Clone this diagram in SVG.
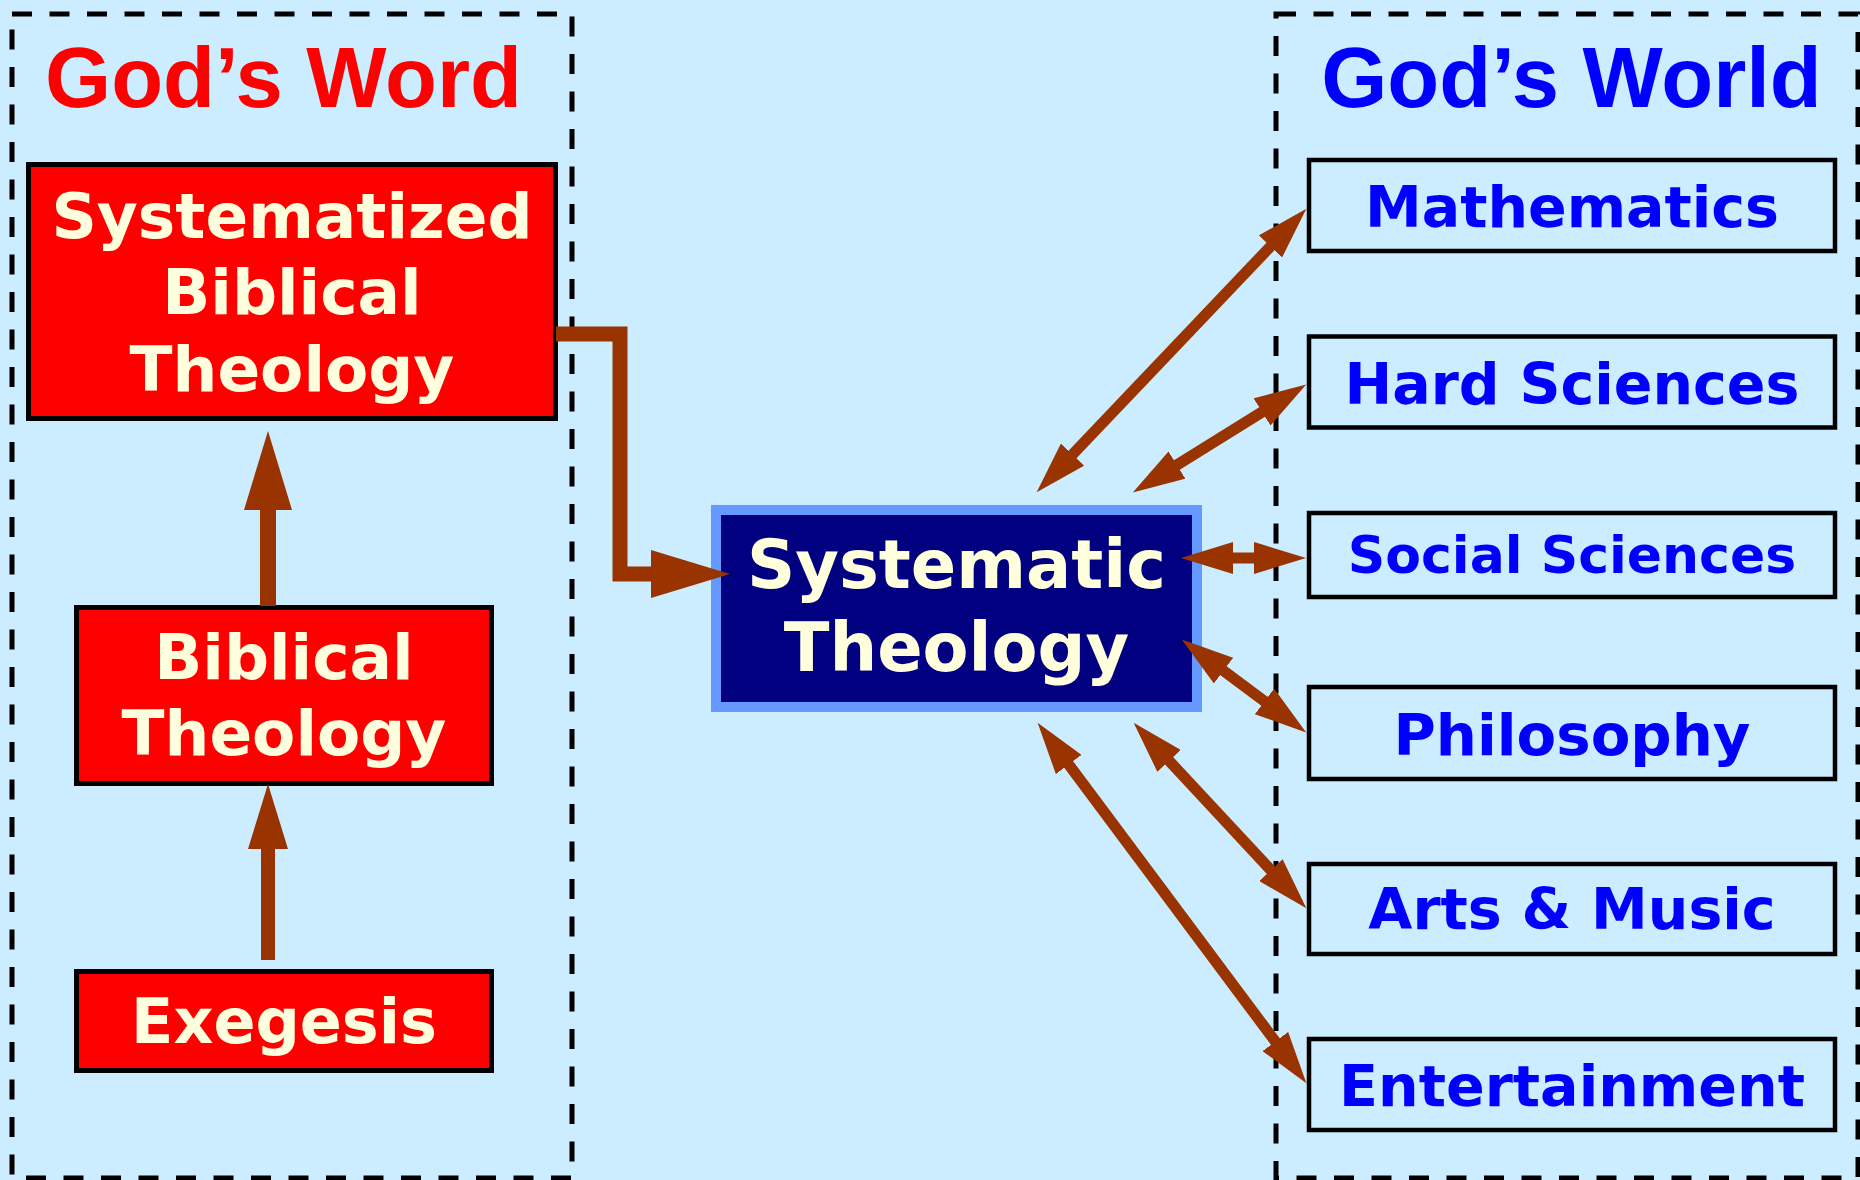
<svg xmlns="http://www.w3.org/2000/svg" width="1860" height="1180" viewBox="0 0 1860 1180">
<style>
.frame{fill:none;stroke:#000;stroke-width:5;stroke-dasharray:20 17.5}
.title{font-family:"Liberation Sans",Arial,sans-serif;font-weight:bold;font-size:85px;text-anchor:middle}
.red{fill:#FF0000;stroke:#000;stroke-width:5}
.rt{font-family:"DejaVu Sans",Verdana,sans-serif;font-weight:bold;fill:#FFFFDD;text-anchor:middle}
.wbox{fill:none;stroke:#000;stroke-width:4.5}
.wt{font-family:"DejaVu Sans",Verdana,sans-serif;font-weight:bold;fill:#0000FF;text-anchor:middle}
.conn{stroke:#993300;fill:none}
.dbl{stroke:#993300;stroke-width:11;marker-start:url(#dh);marker-end:url(#dh)}
</style>
<defs>
<marker id="dh" markerUnits="userSpaceOnUse" markerWidth="52" markerHeight="32" refX="1" refY="16" orient="auto-start-reverse"><path d="M0,0 L52,16 L0,32 z" fill="#993300"/></marker>
<marker id="big" markerUnits="userSpaceOnUse" markerWidth="79" markerHeight="48" refX="1" refY="24" orient="auto"><path d="M0,0 L79,24 L0,48 z" fill="#993300"/></marker>
<marker id="mid" markerUnits="userSpaceOnUse" markerWidth="65" markerHeight="40" refX="1" refY="20" orient="auto"><path d="M0,0 L65,20 L0,40 z" fill="#993300"/></marker>
</defs>
<rect width="1860" height="1180" fill="#CCECFF"/>
<g id="gods-word">
<rect class="frame" x="12" y="14" width="560" height="1164"/>
<text class="title" x="283.5" y="107" fill="#FF0000">God’s Word</text>
</g>
<g id="gods-world">
<rect class="frame" x="1276" y="14" width="582" height="1164"/>
<text class="title" x="1571.5" y="107" fill="#0000FF">God’s World</text>
</g>
<g id="systematized-biblical-theology">
<rect class="red" x="28.5" y="164.5" width="527" height="254"/>
<text class="rt" font-size="63" x="292" y="238">Systematized</text>
<text class="rt" font-size="63" x="292" y="314">Biblical</text>
<text class="rt" font-size="63" x="292" y="391">Theology</text>
</g>
<g id="biblical-theology">
<rect class="red" x="76.5" y="607.5" width="415" height="176"/>
<text class="rt" font-size="63" x="284" y="679">Biblical</text>
<text class="rt" font-size="63" x="284" y="755">Theology</text>
</g>
<g id="exegesis">
<rect class="red" x="76.5" y="971.5" width="415" height="99"/>
<text class="rt" font-size="62" x="284" y="1043">Exegesis</text>
</g>
<g id="systematic-theology">
<rect x="716" y="510" width="481" height="197" fill="#000080" stroke="#6699FF" stroke-width="10"/>
<text class="rt" font-size="67" x="956.5" y="588">Systematic</text>
<text class="rt" font-size="67" x="956.5" y="671">Theology</text>
</g>
<g id="mathematics">
<rect class="wbox" x="1309" y="160" width="526" height="91"/>
<text class="wt" font-size="57" x="1572" y="227">Mathematics</text>
</g>
<g id="hard-sciences">
<rect class="wbox" x="1309" y="336.5" width="526" height="91"/>
<text class="wt" font-size="57" x="1572" y="403.6">Hard Sciences</text>
</g>
<g id="social-sciences">
<rect class="wbox" x="1309" y="513" width="526" height="84"/>
<text class="wt" font-size="52" x="1572" y="573.4">Social Sciences</text>
</g>
<g id="philosophy">
<rect class="wbox" x="1309" y="687" width="526" height="92"/>
<text class="wt" font-size="57" x="1572" y="754.6" textLength="357" lengthAdjust="spacingAndGlyphs">Philosophy</text>
</g>
<g id="arts-music">
<rect class="wbox" x="1309" y="864" width="526" height="90"/>
<text class="wt" font-size="57" x="1572" y="929.3">Arts &amp; Music</text>
</g>
<g id="entertainment">
<rect class="wbox" x="1309" y="1039" width="526" height="91"/>
<text class="wt" font-size="57" x="1572" y="1105.7" textLength="466" lengthAdjust="spacingAndGlyphs">Entertainment</text>
</g>
<g id="connectors">
<line class="conn" x1="268" y1="606" x2="268" y2="509" stroke-width="16" marker-end="url(#big)"/>
<line class="conn" x1="268" y1="960" x2="268" y2="848" stroke-width="14" marker-end="url(#mid)"/>
<polyline class="conn" points="556,334 620,334 620,574 652,574" stroke-width="15" stroke-linejoin="miter" marker-end="url(#big)"/>
<line class="dbl" x1="1071.8" y1="455.3" x2="1271.2" y2="245.7"/>
<line class="dbl" x1="1176.1" y1="465.5" x2="1262.9" y2="411.5"/>
<line class="dbl" x1="1232" y1="558" x2="1255" y2="558"/>
<line class="dbl" x1="1222.7" y1="670.1" x2="1265.3" y2="701.9"/>
<line class="dbl" x1="1168.4" y1="760.1" x2="1271.6" y2="870.9"/>
<line class="dbl" x1="1068.1" y1="763.7" x2="1275.9" y2="1042.3"/>
</g>
</svg>
